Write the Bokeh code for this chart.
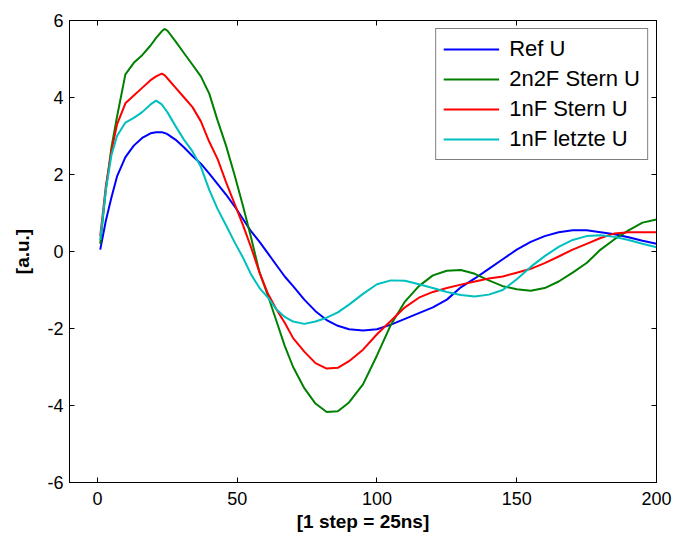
from bokeh.plotting import figure
from bokeh.models import LinearAxis, FixedTicker, Range1d, Legend, LegendItem, CustomJSTickFormatter
from bokeh.embed import file_html
from bokeh.resources import INLINE

steps = [1, 3, 5, 7, 10, 13, 16, 19, 21, 23, 24, 25, 28, 31, 34, 37, 40, 43, 46, 49,
         52, 55, 58, 61, 64, 67, 70, 74, 78, 82, 86, 90, 95, 100, 105, 110, 115, 120,
         125, 130, 135, 140, 145, 150, 155, 160, 165, 170, 175, 180, 185, 190, 195, 200]

ref_u = [0.05, 0.8, 1.4, 1.95, 2.45, 2.75, 2.95, 3.07, 3.1, 3.1, 3.08, 3.05, 2.9, 2.7,
         2.48, 2.28, 2.02, 1.75, 1.48, 1.18, 0.85, 0.52, 0.25, -0.05, -0.35, -0.65, -0.9,
         -1.25, -1.55, -1.78, -1.93, -2.02, -2.05, -2.02, -1.9, -1.75, -1.6, -1.45, -1.25,
         -0.93, -0.7, -0.45, -0.2, 0.05, 0.25, 0.4, 0.5, 0.55, 0.55, 0.5, 0.45, 0.37, 0.28, 0.2]

stern_2n2f = [0.2, 1.6, 2.7, 3.5, 4.6, 4.9, 5.1, 5.35, 5.55, 5.72, 5.78, 5.74, 5.45, 5.15,
              4.85, 4.55, 4.1, 3.4, 2.75, 2.0, 1.2, 0.35, -0.55, -1.15, -1.8, -2.45, -3.0,
              -3.55, -3.95, -4.17, -4.15, -3.92, -3.45, -2.7, -1.9, -1.3, -0.9, -0.62, -0.5,
              -0.48, -0.58, -0.75, -0.9, -0.98, -1.02, -0.95, -0.78, -0.55, -0.3, 0.05, 0.32,
              0.55, 0.75, 0.83]

stern_1nf = [0.4, 1.7, 2.6, 3.3, 3.85, 4.05, 4.25, 4.45, 4.55, 4.62, 4.58, 4.5, 4.25, 4.0,
             3.75, 3.38, 2.85, 2.4, 1.8, 1.25, 0.7, 0.1, -0.55, -1.1, -1.5, -1.85, -2.25,
             -2.6, -2.9, -3.04, -3.02, -2.85, -2.55, -2.15, -1.8, -1.45, -1.2, -1.05, -0.95,
             -0.86, -0.78, -0.7, -0.65, -0.55, -0.45, -0.3, -0.13, 0.05, 0.2, 0.35, 0.47,
             0.5, 0.5, 0.5]

letzte_1nf = [0.3, 1.6, 2.5, 3.0, 3.35, 3.47, 3.62, 3.82, 3.92, 3.82, 3.72, 3.62, 3.25, 2.9,
              2.6, 2.2, 1.6, 1.1, 0.68, 0.25, -0.15, -0.6, -0.95, -1.2, -1.5, -1.7, -1.82,
              -1.88, -1.82, -1.72, -1.58, -1.38, -1.1, -0.85, -0.75, -0.76, -0.85, -0.95,
              -1.05, -1.13, -1.17, -1.12, -1.0, -0.72, -0.4, -0.12, 0.12, 0.3, 0.4, 0.42,
              0.38, 0.3, 0.2, 0.11]

series_names = ["Ref U", "2n2F Stern U", "1nF Stern U", "1nF letzte U"]
series_values = [ref_u, stern_2n2f, stern_1nf, letzte_1nf]
series_colors = ["#0000FF", "#008000", "#FF0000", "#00BFBF"]

x_ticks = [0, 50, 100, 150, 200]
y_ticks = [-6, -4, -2, 0, 2, 4, 6]

FONT = "Liberation Sans"

p = figure(width=676, height=539, output_backend="svg", toolbar_location=None,
           x_range=Range1d(-10, 200), y_range=Range1d(-6, 6),
           min_border_left=69, min_border_right=20, min_border_top=20, min_border_bottom=57,
           x_axis_label="[1 step = 25ns]", y_axis_label="[a.u.]")
p.background_fill_color = "white"
p.border_fill_color = "white"
p.outline_line_color = "black"
p.outline_line_width = 1
p.xgrid.visible = False
p.ygrid.visible = False

fmt = CustomJSTickFormatter(code="return tick.toFixed(0);")
for ax in (p.xaxis[0], p.yaxis[0]):
    ax.axis_label_text_font = FONT
    ax.axis_label_text_font_style = "bold"
    ax.axis_label_text_font_size = "19px"
    ax.axis_label_text_color = "black"
    ax.major_label_text_font = FONT
    ax.major_label_text_font_size = "18px"
    ax.major_label_text_color = "black"
    ax.axis_line_color = "black"
    ax.major_tick_line_color = "black"
    ax.major_tick_in = 5
    ax.major_tick_out = 0
    ax.minor_tick_line_color = None
    ax.formatter = fmt

p.xaxis[0].ticker = FixedTicker(ticks=x_ticks)
p.yaxis[0].ticker = FixedTicker(ticks=y_ticks)
p.xaxis[0].major_label_standoff = 9
p.xaxis[0].axis_label_standoff = 3
p.yaxis[0].major_label_standoff = 6
p.yaxis[0].axis_label_standoff = 11

top_ax = LinearAxis(ticker=FixedTicker(ticks=x_ticks), major_label_text_color=None,
                    major_tick_in=5, major_tick_out=0, minor_tick_line_color=None,
                    axis_line_color="black", major_tick_line_color="black",
                    major_label_text_font_size="1px", major_label_standoff=0)
right_ax = LinearAxis(ticker=FixedTicker(ticks=y_ticks), major_label_text_color=None,
                      major_tick_in=5, major_tick_out=0, minor_tick_line_color=None,
                      axis_line_color="black", major_tick_line_color="black",
                      major_label_text_font_size="1px", major_label_standoff=0)
p.add_layout(top_ax, "above")
p.add_layout(right_ax, "right")

items = []
for name, vals, col in zip(series_names, series_values, series_colors):
    r = p.line(steps, vals, line_color=col, line_width=2)
    items.append(LegendItem(label=name, renderers=[r]))

legend = Legend(items=items, location="top_right")
legend.label_text_font = FONT
legend.label_text_font_size = "22px"
legend.label_text_color = "black"
legend.border_line_color = "black"
legend.border_line_width = 1
legend.background_fill_color = "white"
legend.background_fill_alpha = 1
legend.glyph_width = 56
legend.glyph_height = 20
legend.label_height = 20
legend.label_standoff = 10
legend.spacing = 4
legend.padding = 7
legend.margin = 8
p.add_layout(legend, "center")

open("out.html", "w").write(file_html(p, INLINE))
